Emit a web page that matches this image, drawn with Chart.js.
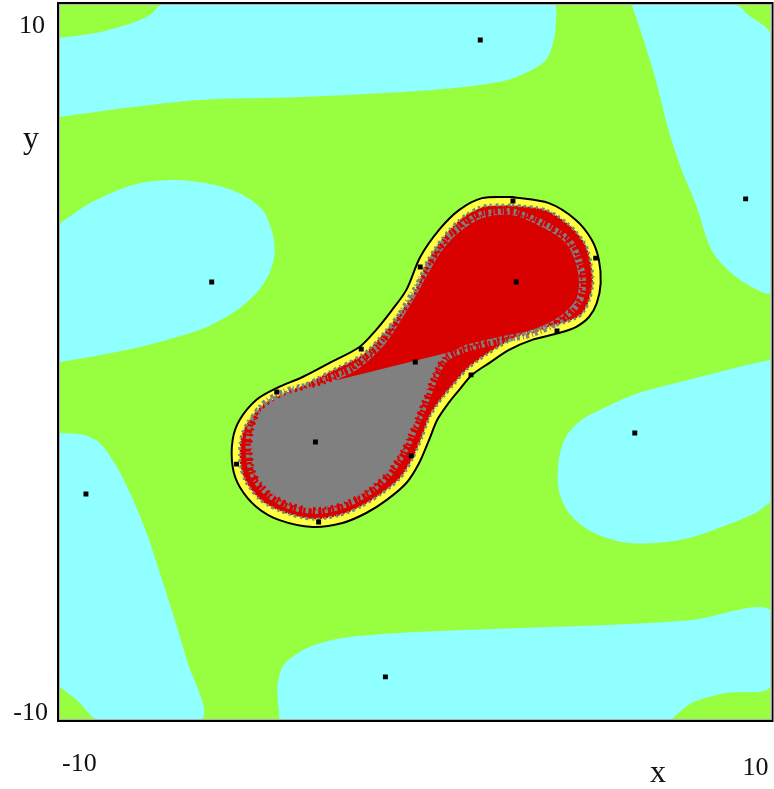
<!DOCTYPE html>
<html>
<head>
<meta charset="utf-8">
<script src="https://cdn.jsdelivr.net/npm/chart.js@4.4.1/dist/chart.umd.min.js"></script>
<style>
  html, body { margin: 0; padding: 0; background: #ffffff; }
  canvas { display: block; }
</style>
</head>
<body>
<canvas id="chart" width="774" height="789"></canvas>
<script>
// Axis range and tick labels
const axisMin = -10;
const axisMax = 10;
const xTickLabels = ['-10', '10'];
const yTickLabels = ['10', '-10'];
const xAxisTitle = 'x';
const yAxisTitle = 'y';

// Cyan regions, boundary points as [x, y]
const cyanTop = [[-10, 9.08], [-8.88, 9.24], [-7.95, 9.50], [-7.47, 9.72], [-7.13, 10], [3.90, 10], [3.96, 9.58], [3.90, 9.02], [3.68, 8.46], [3.12, 8.10], [2.36, 7.84], [0.48, 7.62], [-3.26, 7.42], [-6.07, 7.34], [-7.95, 7.14], [-10, 6.86]];
const cyanRight = [[6.10, 10], [9.02, 10], [9.38, 9.72], [10, 9.16], [10, 1.96], [9.47, 2.10], [8.90, 2.49], [8.34, 3.14], [7.89, 4.45], [7.50, 5.38], [7.13, 6.50], [6.77, 7.90], [6.43, 9.02]];
const cyanLeft = [[-10, 3.89], [-9.16, 4.45], [-8.23, 4.87], [-7.56, 5.04], [-6.83, 5.10], [-5.87, 5.01], [-4.94, 4.73], [-4.30, 4.26], [-4.02, 3.61], [-3.96, 3.05], [-4.10, 2.49], [-4.47, 1.93], [-5.14, 1.37], [-6.07, 0.90], [-7.75, 0.42], [-9.16, 0.14], [-10, 0.00]];
const cyanLowerLeft = [[-10, -1.99], [-9.35, -2.04], [-8.88, -2.27], [-8.40, -2.94], [-8.03, -3.67], [-7.56, -4.79], [-7.19, -5.91], [-6.83, -7.03], [-6.43, -8.35], [-6.01, -10], [-8.96, -10], [-9.44, -9.55], [-10, -9.10]];
const cyanBottom = [[-3.82, -10], [-3.88, -9.10], [-3.74, -8.54], [-3.46, -8.26], [-2.98, -7.98], [-2.05, -7.73], [-0.45, -7.59], [2.16, -7.48], [5.45, -7.37], [7.78, -7.23], [10, -6.95], [10, -9.10], [8.74, -9.27], [7.78, -9.55], [7.22, -10]];
const cyanRightMid = [[10, 0.06], [9.10, -0.14], [7.70, -0.50], [6.29, -0.87], [5.37, -1.26], [4.69, -1.62], [4.24, -2.10], [4.04, -2.75], [4.04, -3.59], [4.33, -4.23], [4.89, -4.71], [5.81, -5.04], [6.77, -5.07], [7.70, -4.93], [8.62, -4.62], [9.58, -4.23], [10, -3.92]];

// Central blob: outer contour (black line), inner edge of the yellow rim,
// and the edge of the solid core
const outerContour = [[2.72, 4.62], [3.76, 4.45], [4.52, 3.98], [4.97, 3.42], [5.17, 2.86], [5.22, 2.21], [5.11, 1.65], [4.89, 1.26], [4.52, 0.98], [4.04, 0.81], [3.29, 0.62], [2.64, 0.34], [2.08, -0.03], [1.60, -0.36], [1.24, -0.78], [0.90, -1.20], [0.62, -1.62], [0.39, -2.18], [0.11, -2.83], [-0.25, -3.39], [-0.81, -3.87], [-1.38, -4.23], [-2.05, -4.51], [-2.89, -4.62], [-3.82, -4.43], [-4.47, -4.06], [-4.94, -3.50], [-5.14, -2.94], [-5.14, -2.18], [-4.94, -1.62], [-4.47, -1.06], [-3.90, -0.73], [-3.17, -0.42], [-2.42, -0.03], [-1.57, 0.42], [-1.10, 0.90], [-0.65, 1.46], [-0.25, 2.02], [0.14, 2.94], [0.67, 3.70], [1.24, 4.26], [1.88, 4.59]];
const rimContour = [[2.72, 4.40], [3.68, 4.26], [4.37, 3.81], [4.78, 3.31], [4.94, 2.80], [5.00, 2.21], [4.89, 1.71], [4.69, 1.34], [4.41, 1.18], [3.99, 1.04], [3.20, 0.84], [2.53, 0.53], [1.95, 0.17], [1.46, -0.20], [1.07, -0.64], [0.72, -1.06], [0.42, -1.51], [0.19, -2.10], [-0.08, -2.72], [-0.42, -3.25], [-0.96, -3.70], [-1.49, -4.03], [-2.11, -4.29], [-2.89, -4.40], [-3.74, -4.20], [-4.33, -3.89], [-4.75, -3.39], [-4.92, -2.91], [-4.92, -2.21], [-4.75, -1.74], [-4.33, -1.23], [-3.79, -0.92], [-3.09, -0.62], [-2.30, -0.22], [-1.44, 0.24], [-0.93, 0.76], [-0.48, 1.32], [-0.06, 1.90], [0.34, 2.83], [0.84, 3.56], [1.38, 4.09], [1.94, 4.37]];
const innerContour = [[2.72, 4.12], [3.57, 3.78], [4.24, 3.33], [4.52, 2.77], [4.61, 2.21], [4.52, 1.74], [4.04, 1.26], [3.29, 0.90], [2.36, 0.70], [1.43, 0.48], [0.81, 0.20], [0.53, -0.22], [0.25, -0.92], [-0.03, -1.62], [-0.37, -2.38], [-0.79, -3.03], [-1.29, -3.50], [-1.94, -3.87], [-2.70, -4.06], [-3.46, -3.95], [-4.10, -3.59], [-4.47, -3.11], [-4.58, -2.46], [-4.52, -1.82], [-4.24, -1.29], [-3.62, -0.92], [-2.89, -0.73], [-2.22, -0.50], [-1.57, -0.17], [-0.87, 0.48], [-0.31, 1.32], [0.11, 2.02], [0.45, 2.63], [0.81, 3.19], [1.24, 3.64], [1.88, 4.03]];
const redLobe = [[-2.22, -0.51], [-1.57, -0.17], [-0.87, 0.48], [-0.31, 1.32], [0.11, 2.02], [0.45, 2.63], [0.81, 3.19], [1.24, 3.64], [1.88, 4.03], [2.72, 4.12], [3.57, 3.78], [4.24, 3.33], [4.52, 2.77], [4.61, 2.21], [4.52, 1.74], [4.04, 1.26], [3.29, 0.90], [2.36, 0.70], [1.43, 0.48], [1.10, 0.31]];

// Marked points
const pointX = [1.83, 9.30, 2.75, 0.14, 5.08, -5.73, 2.84, 3.99, -1.52, 0.00, 1.57, -3.90, 6.18, -2.81, -0.11, -5.03, -9.27, -2.72, -0.84];
const pointY = [9.02, 4.57, 4.51, 2.66, 2.91, 2.24, 2.24, 0.87, 0.36, 0.00, -0.36, -0.84, -1.99, -2.24, -2.63, -2.86, -3.70, -4.48, -8.82];

const GREEN = '#98ff40';
const SPECKLE = '#b4ff60';
const CYAN = '#8fffff';
const YELLOW = '#ffff40';
const RED = '#d90000';
const GRAY = '#808080';

const toPts = a => a.map(([x, y]) => ({ x, y }));
const closed = a => toPts(a.concat([a[0]]));

function region(data, color, order) {
  return {
    data: toPts(data), showLine: true, fill: 'shape',
    backgroundColor: color, borderColor: 'transparent', borderWidth: 0,
    pointRadius: 0, tension: 0.3, order
  };
}
function ring(data, color, width, order, dash, offset, cap) {
  return {
    data: closed(data), showLine: true, fill: false,
    borderColor: color, borderWidth: width,
    borderDash: dash || [], borderDashOffset: offset || 0,
    borderJoinStyle: 'round', borderCapStyle: cap || 'butt',
    pointRadius: 0, tension: 0.3, order
  };
}

const datasets = [
  region(cyanTop, CYAN, 40),
  region(cyanRight, CYAN, 40),
  region(cyanLeft, CYAN, 40),
  region(cyanLowerLeft, CYAN, 40),
  region(cyanBottom, CYAN, 40),
  region(cyanRightMid, CYAN, 40),
  // yellow rim and the speckled red/gray band inside it
  region(outerContour, YELLOW, 30),
  ring(rimContour, SPECKLE, 4, 29, [1, 2, 1, 4]),
  region(rimContour, RED, 28),
  ring(innerContour, GRAY, 14, 27, [3, 2, 1, 3]),
  ring(innerContour, RED, 7, 26, [2, 3], 1),
  ring(innerContour, GRAY, 4, 25, [0, 6], 2, 'round'),
  ring(rimContour, GRAY, 3, 24, [2, 4, 3, 3]),
  ring(rimContour, SPECKLE, 2, 23, [1, 5], 3),
  // solid core
  region(innerContour, GRAY, 12),
  region(redLobe, RED, 11),
  ring(outerContour, '#000000', 2, 10),
  {
    data: pointX.map((x, i) => ({ x, y: pointY[i] })),
    pointStyle: 'rect', pointRadius: 3.5, pointHoverRadius: 3.5,
    backgroundColor: '#000000', borderWidth: 0, order: 0
  }
];

const framePlugin = {
  id: 'framePlugin',
  beforeDatasetsDraw(chart) {
    const { ctx, chartArea: a } = chart;
    ctx.save();
    ctx.fillStyle = GREEN;
    ctx.fillRect(a.left, a.top, a.right - a.left, a.bottom - a.top);
    ctx.restore();
  },
  afterDraw(chart) {
    const { ctx, chartArea: a, scales } = chart;
    ctx.save();
    // double frame
    ctx.strokeStyle = '#000000';
    ctx.lineWidth = 2;
    ctx.strokeRect(a.left - 2, a.top - 2, a.right - a.left + 4, a.bottom - a.top + 4);
    ctx.strokeStyle = '#b0b0b0';
    ctx.lineWidth = 1;
    ctx.strokeRect(a.left - 0.5, a.top - 0.5, a.right - a.left + 1, a.bottom - a.top + 1);

    ctx.fillStyle = '#111111';
    ctx.font = '26px "Liberation Serif", "Times New Roman", serif';
    ctx.textBaseline = 'alphabetic';
    const x = scales.x, y = scales.y;
    ctx.textAlign = 'left';
    ctx.fillText(xTickLabels[0], x.getPixelForValue(axisMin) + 2, a.bottom + 52);
    ctx.textAlign = 'right';
    ctx.fillText(xTickLabels[1], x.getPixelForValue(axisMax) - 2, a.bottom + 56);
    ctx.fillText(yTickLabels[0], a.left - 15, y.getPixelForValue(axisMax) + 28);
    ctx.fillText(yTickLabels[1], a.left - 12, y.getPixelForValue(axisMin) + 1);

    ctx.font = '32px "Liberation Serif", "Times New Roman", serif';
    ctx.textAlign = 'center';
    ctx.fillText(xAxisTitle, a.left + 598, a.bottom + 63);
    ctx.fillText(yAxisTitle, a.left - 29, a.top + 143);
    ctx.restore();
  }
};

new Chart(document.getElementById('chart'), {
  type: 'scatter',
  data: { datasets },
  options: {
    responsive: false,
    devicePixelRatio: 1,
    animation: false,
    events: [],
    layout: { padding: { left: 60, top: 5, right: 2, bottom: 70 } },
    scales: {
      x: { type: 'linear', min: axisMin, max: axisMax, display: false },
      y: { type: 'linear', min: axisMin, max: axisMax, display: false }
    },
    plugins: { legend: { display: false }, tooltip: { enabled: false } }
  },
  plugins: [framePlugin]
});
</script>
</body>
</html>
